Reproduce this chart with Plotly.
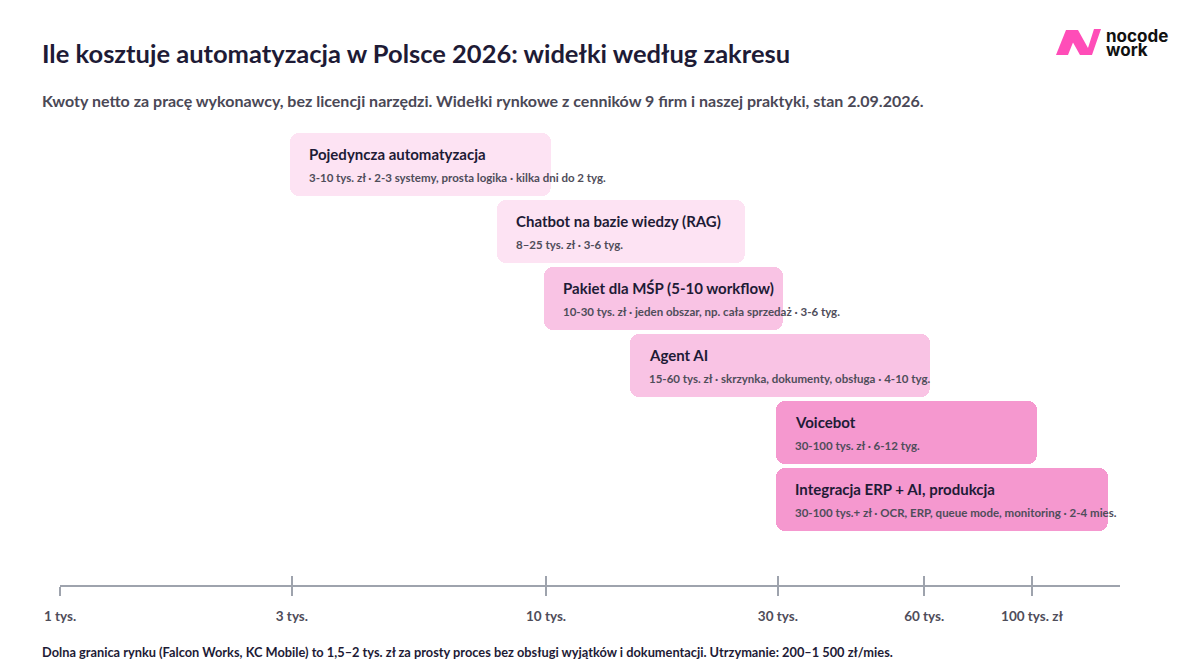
import numpy as np
import plotly.graph_objects as go

# ---------------- data ----------------
names = ["Pojedyncza automatyzacja", "Chatbot na bazie wiedzy (RAG)",
         "Pakiet dla MŚP (5-10 workflow)", "Agent AI", "Voicebot",
         "Integracja ERP + AI, produkcja"]
low_k = [3, 8, 10, 15, 30, 30]
high_k = [10, 25, 30, 60, 100, 140]
details = ["3-10 tys. zł · 2-3 systemy, prosta logika · kilka dni do 2 tyg.",
           "8–25 tys. zł · 3-6 tyg.",
           "10-30 tys. zł · jeden obszar, np. cała sprzedaż · 3-6 tyg.",
           "15-60 tys. zł · skrzynka, dokumenty, obsługa · 4-10 tyg.",
           "30-100 tys. zł · 6-12 tyg.",
           "30-100 tys.+ zł · OCR, ERP, queue mode, monitoring · 2-4 mies."]
tick_vals = [1, 3, 10, 30, 60, 100]
tick_text = ["1 tys.", "3 tys.", "10 tys.", "30 tys.", "60 tys.", "100 tys. zł"]

title = "Ile kosztuje automatyzacja w Polsce 2026: widełki według zakresu"
subtitle = ("Kwoty netto za pracę wykonawcy, bez licencji narzędzi. Widełki rynkowe "
            "z cenników 9 firm i naszej praktyki, stan 2.09.2026.")
footer = ("Dolna granica rynku (Falcon Works, KC Mobile) to 1,5–2 tys. zł za prosty proces "
          "bez obsługi wyjątków i dokumentacji. Utrzymanie: 200–1 500 zł/mies.")

# ---------------- style ----------------
OFF = 8                      # page body margin compensation
W, H = 1200 - OFF, 670 - OFF
ML, MR, MT, MB = 60 - OFF, 80, 131 - OFF, 85
PW, PH = W - ML - MR, H - MT - MB
FONT = "Lato"
DARK = "#1e1b36"
GREY = "#4f4d5a"
AXIS = "#9ea3ad"
fills = ["#fde3f3", "#fde3f3", "#f9c3e4", "#f9c3e4", "#f598cf", "#f598cf"]
PAD_L, PAD_R = 0.004, 0.011   # small visual padding in log10 units

rows = list(range(len(names)))
base = [v * 10 ** (-PAD_L) for v in low_k]
length = [h * 10 ** PAD_R - b for h, b in zip(high_k, base)]

x_max = 10 ** (PW / 486.0)

def px(xp):
    return (xp - OFF - ML) / PW

def py(yp):
    return (H - MB - (yp - OFF)) / PH

fig = go.Figure()
fig.add_trace(go.Bar(
    orientation="h", y=rows, x=length, base=base, width=0.94,
    marker=dict(color=fills, cornerradius=9, line=dict(width=0)),
    hoverinfo="skip", showlegend=False,
))
# invisible trace for the overlay axis (inner half of tick marks)
fig.add_trace(go.Scatter(x=[1, x_max], y=[0, 0], xaxis="x2", mode="markers",
                         marker=dict(opacity=0), hoverinfo="skip", showlegend=False))

ann = []
for r, b, n, d in zip(rows, base, names, details):
    ann.append(dict(x=np.log10(b), y=r, xref="x", yref="y", text="<b>%s</b>" % n,
                    xanchor="left", yanchor="middle", xshift=17, yshift=10.5,
                    showarrow=False, font=dict(family=FONT, size=15, color=DARK)))
    ann.append(dict(x=np.log10(b), y=r, xref="x", yref="y", text="<b>%s</b>" % d,
                    xanchor="left", yanchor="middle", xshift=17, yshift=-12.5,
                    showarrow=False, font=dict(family=FONT, size=11.5, color=GREY)))

ann.append(dict(x=px(40), y=py(53), xref="paper", yref="paper", text="<b>%s</b>" % title,
                xanchor="left", yanchor="middle", showarrow=False,
                font=dict(family=FONT, size=25.5, color=DARK)))
ann.append(dict(x=px(40), y=py(101), xref="paper", yref="paper", text="<b>%s</b>" % subtitle,
                xanchor="left", yanchor="middle", showarrow=False,
                font=dict(family=FONT, size=16, color="#4a4856")))
ann.append(dict(x=px(40), y=py(652), xref="paper", yref="paper", text="<b>%s</b>" % footer,
                xanchor="left", yanchor="middle", showarrow=False,
                font=dict(family=FONT, size=12.8, color=DARK)))
ann.append(dict(x=px(1104), y=py(35.5), xref="paper", yref="paper", text="<b>nocode</b>",
                xanchor="left", yanchor="middle", showarrow=False,
                font=dict(family="Inter", size=17, color="#111111")))
ann.append(dict(x=px(1104), y=py(50), xref="paper", yref="paper", text="<b>work</b>",
                xanchor="left", yanchor="middle", showarrow=False,
                font=dict(family="Inter", size=17, color="#111111")))

# logo mark (two slanted strokes forming an N)
def poly(pts):
    return "M " + " L ".join("%.5f,%.5f" % (px(a), py(b)) for a, b in pts) + " Z"

logo_pts1 = [(1056, 55), (1066, 30), (1078, 30), (1068, 55)]
logo_pts2 = [(1066, 30), (1078, 30), (1088, 48), (1094, 29), (1101, 29), (1092, 55), (1080, 55)]
shapes = [dict(type="path", path=poly(logo_pts1), xref="paper", yref="paper",
               fillcolor="#ff4db8", line=dict(width=0)),
          dict(type="path", path=poly(logo_pts2), xref="paper", yref="paper",
               fillcolor="#ff4db8", line=dict(width=0))]

rng = [0, np.log10(x_max)]
fig.update_layout(
    width=W, height=H, margin=dict(l=ML, r=MR, t=MT, b=MB),
    paper_bgcolor="white", plot_bgcolor="white",
    barmode="overlay", bargap=0,
    font=dict(family=FONT),
    xaxis=dict(type="log", range=rng, showgrid=False, zeroline=False,
               showline=True, linecolor=AXIS, linewidth=2,
               ticks="outside", ticklen=9, tickwidth=1.5, tickcolor=AXIS,
               tickvals=tick_vals, ticktext=["<b>%s</b>" % t for t in tick_text],
               tickfont=dict(family=FONT, size=13.5, color=GREY),
               ticklabelstandoff=9, fixedrange=True),
    xaxis2=dict(type="log", range=rng, overlaying="x", anchor="y", side="bottom",
                showgrid=False, zeroline=False, showline=False,
                ticks="inside", ticklen=9, tickwidth=1.5, tickcolor=AXIS,
                tickvals=tick_vals, showticklabels=False, fixedrange=True),
    yaxis=dict(range=[6.276, -0.5], showgrid=False, zeroline=False, showline=False,
               showticklabels=False, ticks="", fixedrange=True),
    annotations=ann, shapes=shapes,
)

fig.write_html("out.html")
